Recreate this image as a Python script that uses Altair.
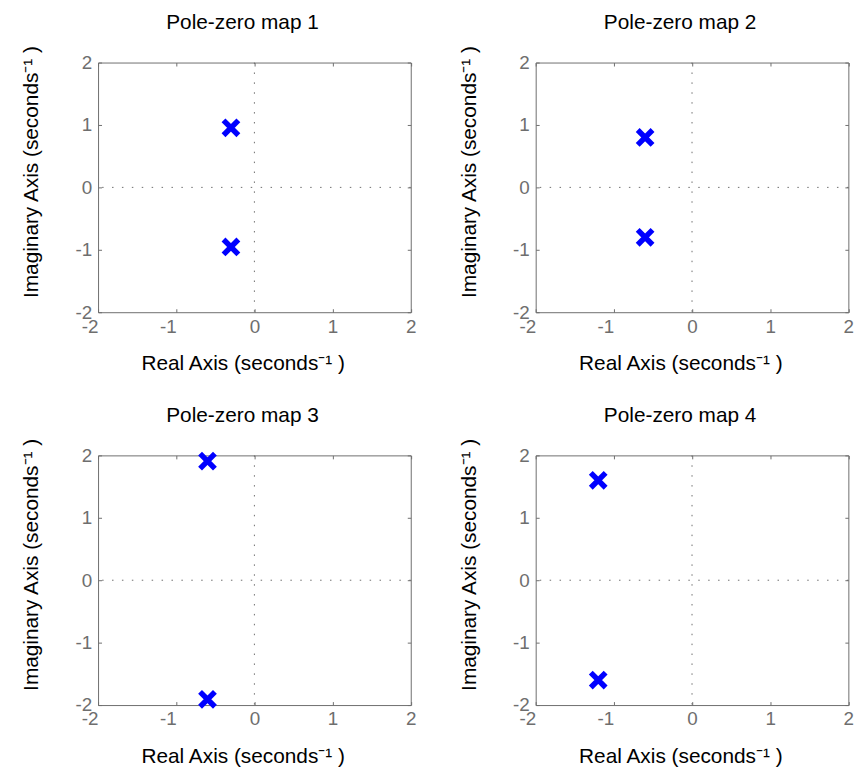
import altair as alt
import pandas as pd

# ---- data ----
titles = ["Pole-zero map 1", "Pole-zero map 2", "Pole-zero map 3", "Pole-zero map 4"]
pole_real = [[-0.3, -0.3], [-0.6, -0.6], [-0.6, -0.6], [-1.2, -1.2]]
pole_imag = [[0.954, -0.954], [0.8, -0.8], [1.908, -1.908], [1.6, -1.6]]
tick_values = [-2, -1, 0, 1, 2]
zero_line = [0]
axis_range = [-2, 2]

FONT = "Liberation Sans"
GRAY = "#6e6e6e"
TICK = 3.5
W, H = 315.6, 252.0

x_title = "Real Axis (seconds\u207b\u00b9 )"
y_title = "Imaginary Axis (seconds\u207b\u00b9 )"


def scale():
    return alt.Scale(domain=axis_range, nice=False, zero=False)


def main_axis(title, orient):
    common = dict(
        values=tick_values, orient=orient, title=title, domain=False, grid=False,
        ticks=True, tickSize=TICK, tickColor=GRAY, offset=-TICK,
        labelFont=FONT, labelFontSize=19, labelColor=GRAY,
        labelExpr="'' + datum.value",
        titleFont=FONT, titleFontSize=21, titleColor="#000000", titleFontWeight="normal",
    )
    if orient == "bottom":
        common.update(titleX=146, titleY=44.5, titleBaseline="top", titleAlign="center",
                      labelPadding=5,
                      labelAlign={"condition": {"test": "datum.value < 0", "value": "right"},
                                  "value": "center"})
    else:
        common.update(titleX=-60.3, titleY=110, titleBaseline="bottom", titleAlign="center",
                      titleAngle=270, labelPadding=6.5)
    return alt.Axis(**common)


def tick_axis(orient, title=None):
    opts = dict(
        values=tick_values, orient=orient, title=title, domain=False, grid=False,
        labels=False, ticks=True, tickSize=TICK, tickColor=GRAY, offset=-TICK,
    )
    if title is not None:
        opts.update(titleFont=FONT, titleFontSize=21, titleColor="#000000",
                    titleFontWeight="normal", titleX=W / 2 - 12.5, titleY=-38,
                    titleBaseline="alphabetic", titleAlign="center")
    return alt.Axis(**opts)


def panel(i):
    pts = pd.DataFrame({"re": pole_real[i], "im": pole_imag[i]})
    zeros = pd.DataFrame({"z": zero_line})
    vline = alt.Chart(zeros).mark_rule(color=GRAY, strokeDash=[1.5, 8.5], strokeWidth=1).encode(
        x=alt.X("z:Q", scale=scale(), axis=tick_axis("top", titles[i]))
    )
    hline = alt.Chart(zeros).mark_rule(color=GRAY, strokeDash=[1.5, 8.5], strokeWidth=1).encode(
        y=alt.Y("z:Q", scale=scale(), axis=tick_axis("right"))
    )
    poles = alt.Chart(pts).mark_point(
        shape="M-1,-1L1,1M1,-1L-1,1", filled=False, size=225, strokeWidth=5.5,
        color="#0000ff", opacity=1,
    ).encode(
        x=alt.X("re:Q", scale=scale(), axis=main_axis(x_title, "bottom")),
        y=alt.Y("im:Q", scale=scale(), axis=main_axis(y_title, "left")),
    )
    return alt.layer(vline, hline, poles).resolve_axis(x="independent", y="independent").properties(
        width=W, height=H,
    )


chart = alt.concat(
    *[panel(i) for i in range(4)], columns=2,
    spacing={"row": 144.5, "column": 125.7}, bounds="flush",
).properties(
    padding={"left": 11.9, "top": -0.5, "right": 0, "bottom": 0}
).configure_view(stroke=GRAY, strokeWidth=1)

chart.save("out.html", embed_options={"renderer": "svg", "actions": False})
